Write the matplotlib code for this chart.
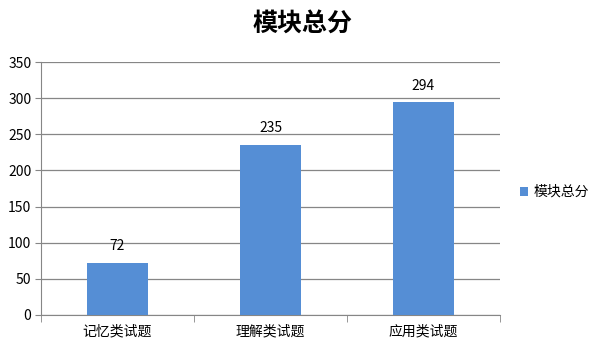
import matplotlib
matplotlib.use("Agg")
import matplotlib.pyplot as plt
import numpy as np

plt.rcParams['font.family'] = ['Noto Sans CJK SC', 'DejaVu Sans']

categories = ["记忆类试题", "理解类试题", "应用类试题"]
scores = [72, 235, 294]
series_name = "模块总分"

fig = plt.figure(figsize=(6.06, 3.53), dpi=100)
ax = fig.add_axes([41 / 606, 38 / 353, 459 / 606, 253 / 353])

x = np.arange(len(categories))
ax.bar(x, scores, width=0.4, color="#558ED5", label=series_name, zorder=3)
for xi, v in zip(x, scores):
    ax.annotate(str(v), (xi, v), xytext=(0, 7), textcoords="offset points",
                ha="center", va="bottom", fontsize=10)

ax.set_xlim(-0.5, len(categories) - 0.5)
ax.set_ylim(0, 350)
ax.set_yticks(range(0, 351, 50))
ax.yaxis.grid(True, color="#868686", linewidth=0.9, zorder=0)
ax.set_xticks(x)
ax.set_xticklabels(categories, fontsize=10)
ax.tick_params(axis="x", length=0, pad=7)
ax.set_xticks(np.arange(-0.5, len(categories)), minor=True)
ax.tick_params(axis="x", which="minor", length=5, color="#868686")
ax.tick_params(axis="y", length=4, color="#868686", labelsize=10, pad=3)
for s in ["top", "right"]:
    ax.spines[s].set_visible(False)
for s in ["left", "bottom"]:
    ax.spines[s].set_color("#868686")

fig.text(0.5, 1 - 25 / 353, series_name, ha="center", va="center",
         fontsize=18, fontweight="bold")
fig.legend(loc="center left", bbox_to_anchor=(507 / 606, 1 - 192 / 353),
           frameon=False, fontsize=10, handlelength=0.6, handleheight=0.6,
           handletextpad=0.4)

fig.savefig("out.png", dpi=100)
